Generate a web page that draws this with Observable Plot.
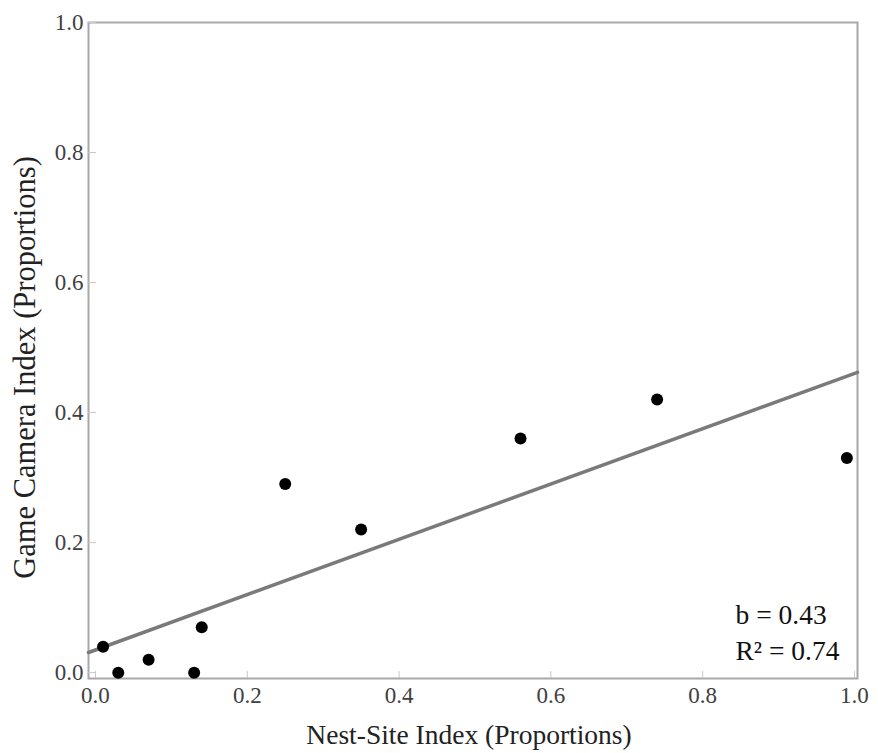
<!DOCTYPE html>
<html>
<head>
<meta charset="utf-8">
<script src="https://cdn.jsdelivr.net/npm/d3@7"></script>
<script src="https://cdn.jsdelivr.net/npm/@observablehq/plot@0.6"></script>
<style>
  html, body { margin: 0; padding: 0; background: #fff; }
  #chart { width: 878px; height: 753px; }
  #chart svg, #chart svg text { font-family: "Liberation Serif", "Times New Roman", serif !important; }
</style>
</head>
<body>
<div id="chart"></div>
<script>
// Data
const nestSite   = [0.01, 0.03, 0.07, 0.13, 0.14, 0.25, 0.35, 0.56, 0.74, 0.99];
const gameCamera = [0.04, 0.00, 0.02, 0.00, 0.07, 0.29, 0.22, 0.36, 0.42, 0.33];
// Fitted line end points (as drawn)
const fitX = [-0.0092, 1.004];
const fitY = [0.031, 0.462];
const tickValues = [0, 0.2, 0.4, 0.6, 0.8, 1.0];
const annotation = ["b = 0.43", "R\u00B2 = 0.74"];

const points = nestSite.map((x, i) => ({x, y: gameCamera[i]}));
const fit = fitX.map((x, i) => ({x, y: fitY[i]}));

const font = "Liberation Serif";

const chart = Plot.plot({
  width: 878,
  height: 753,
  marginLeft: 88,
  marginRight: 21,
  marginTop: 22,
  marginBottom: 75,
  style: {fontFamily: font, background: "#fff", color: "#333"},
  x: {domain: [-0.0092, 1.004]},
  y: {domain: [-0.009, 1.0]},
  marks: [
    Plot.frame({stroke: "#a8a8a8", strokeWidth: 2}),
    // inward tick marks
    Plot.axisX({ticks: tickValues, tickSize: 7, dy: -7, text: null, stroke: "#c8c8c8", label: null}),
    Plot.axisY({ticks: tickValues, tickSize: 8, dx: 8, text: null, stroke: "#c8c8c8", label: null}),
    // tick labels
    Plot.axisX({ticks: tickValues, tickSize: 0, tickPadding: 8, tickFormat: ".1f",
      fontSize: 23, fontFamily: font, fill: "#404040", label: null}),
    Plot.axisY({ticks: tickValues, tickSize: 0, tickPadding: 5, tickFormat: ".1f",
      fontSize: 23, fontFamily: font, fill: "#404040", label: null}),
    Plot.line(fit, {x: "x", y: "y", stroke: "#7a7a7a", strokeWidth: 3.5}),
    Plot.dot(points, {x: "x", y: "y", r: 6, fill: "#000", stroke: "none"}),
    Plot.text([annotation.join("\n")], {
      frameAnchor: "bottom-right", textAnchor: "start", lineAnchor: "bottom",
      dx: -122, dy: -19, fontSize: 27.5, fontFamily: font, lineHeight: 1.3, fill: "#111"
    }),
    Plot.text(["Nest-Site Index (Proportions)"], {
      frameAnchor: "bottom", dx: -4, dy: 65, lineAnchor: "bottom", fontSize: 27.5, fontFamily: font, fill: "#222"
    }),
    Plot.text(["Game Camera Index (Proportions)"], {
      frameAnchor: "left", textAnchor: "middle", dx: -63, dy: 17, rotate: -90,
      fontSize: 30.5, fontFamily: font, fill: "#222"
    })
  ]
});
document.getElementById("chart").append(chart);
</script>
</body>
</html>
